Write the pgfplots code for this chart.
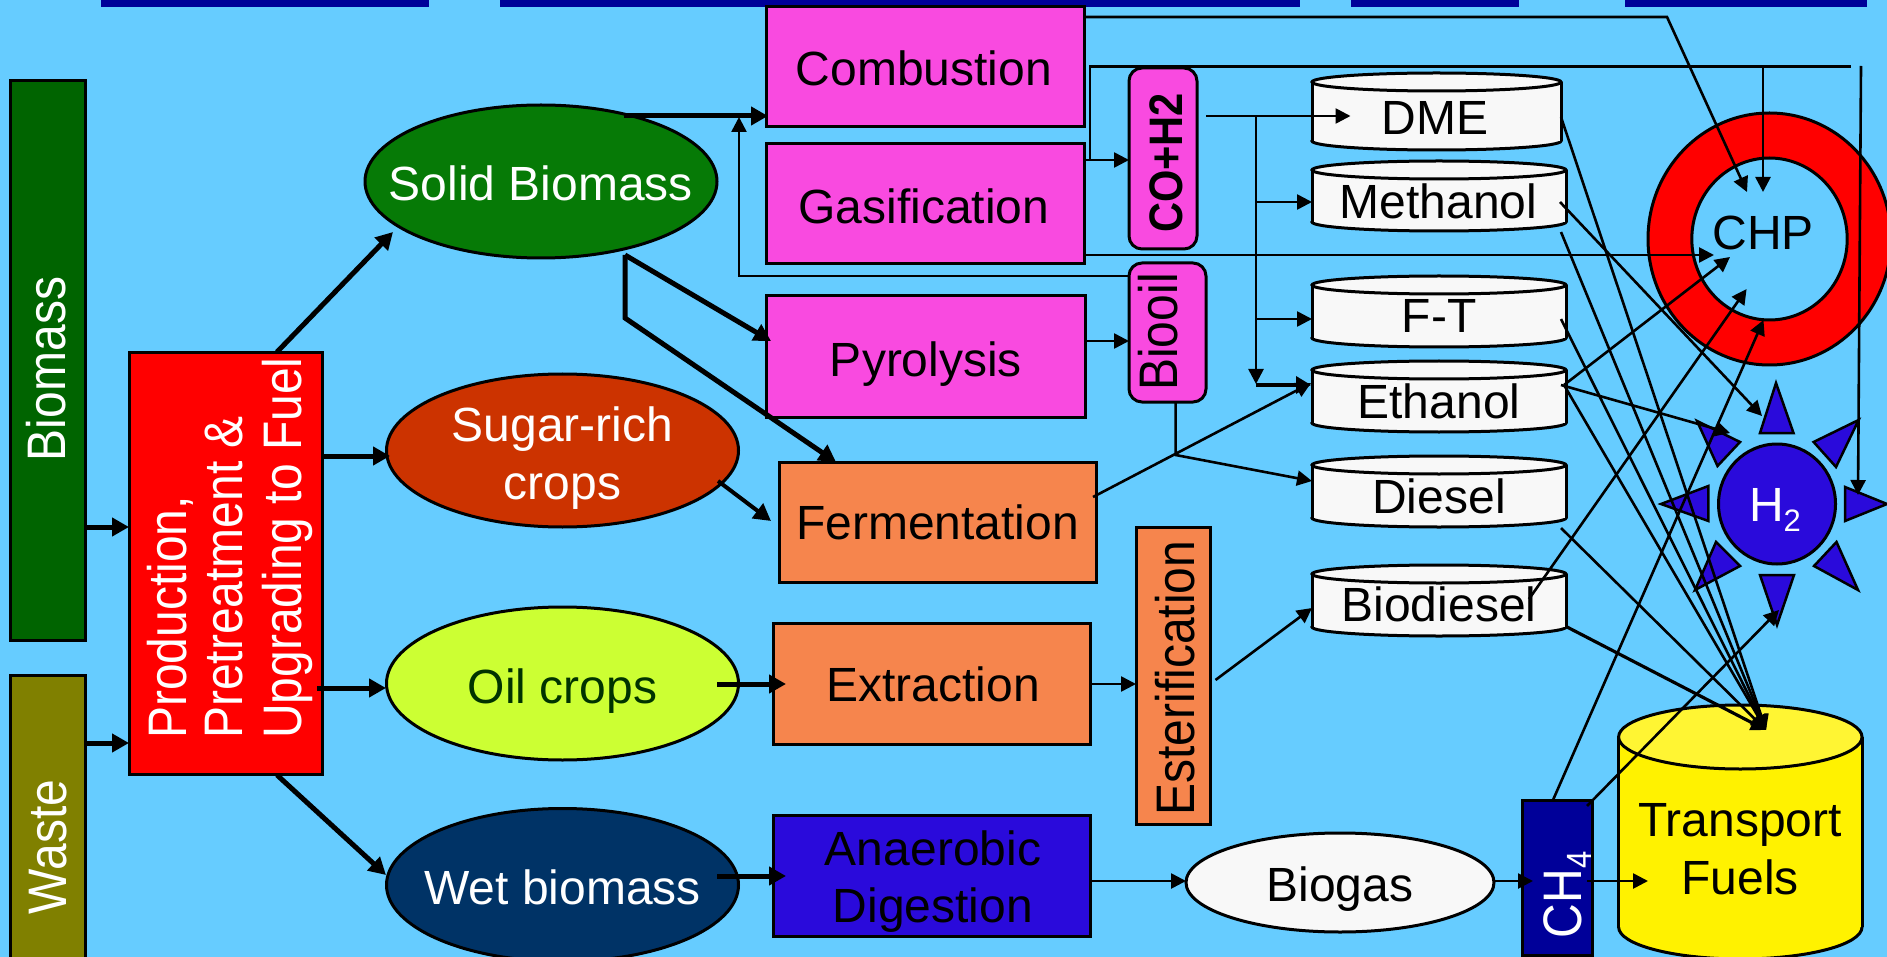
\documentclass[border=0pt]{standalone}
\usepackage{pgfplots}
\pgfplotsset{compat=1.18}
\usepackage{fontspec}
\setmainfont{Liberation Sans}
\usetikzlibrary{arrows.meta}
\definecolor{bg}{RGB}{102,204,255}
\definecolor{navy}{RGB}{0,0,153}
\definecolor{mag}{RGB}{249,74,224}
\definecolor{org}{RGB}{246,133,77}
\definecolor{blu}{RGB}{42,10,219}
\definecolor{wht}{RGB}{248,248,248}
\definecolor{dgreen}{RGB}{0,100,0}
\definecolor{sgreen}{RGB}{6,122,6}
\definecolor{olv}{RGB}{128,128,0}
\definecolor{sug}{RGB}{204,51,0}
\definecolor{lime}{RGB}{204,255,51}
\definecolor{wet}{RGB}{0,51,102}
\newcommand\fs{\fontsize{48}{54}\selectfont}
\newcommand\sfs{\fontsize{31}{34}\selectfont}
\tikzset{
 box/.style={draw=black,line width=3pt},
 txt/.style={anchor=base,inner sep=0pt,font=\fs,text=black,yshift=-1.5pt},
 rot/.style={rotate=90,anchor=base,inner sep=0pt,font=\fs,text=black},
 rotw/.style={rotate=90,anchor=base west,inner sep=0pt,font=\fs,text=white},
}
\pgfplotsset{
 thick arr/.style={black,line width=5pt,-{Triangle[length=17pt,width=18pt]}},
 mid arr/.style={black,line width=4pt,-{Triangle[length=17pt,width=18pt]}},
 thin arr/.style={black,line width=2.6pt,-{Triangle[length=15pt,width=15pt]}},
 ln/.style={black,line width=2.6pt},
 tri/.style={draw=black,line width=2.5pt,fill=blu},
}
\newcommand\stretched[1]{\scalebox{1}[1.13]{#1}}
\newcommand\cyl[7]{%
 \draw[line width=3pt,fill=#6] (#1,#4) ellipse [x radius=#2,y radius=#5];
 \fill[#6] (#1-#2,#3) rectangle (#1+#2,#4);
 \draw[line width=3pt] (#1-#2,#3) -- (#1-#2,#4);
 \draw[line width=3pt] (#1+#2,#3) -- (#1+#2,#4);
 \draw[line width=3pt,fill=#7] (#1,#3) ellipse [x radius=#2,y radius=#5];
}
\begin{document}
\begin{tikzpicture}[x=1pt,y=1pt]
\useasboundingbox (0,0) rectangle (1887,957);
\clip (0,0) rectangle (1887,957);
\fill[bg] (0,0) rectangle (1887,957);
\begin{axis}[at={(0,0)},anchor=south west,scale only axis,width=1887pt,height=957pt,
 xmin=0,xmax=1887,ymin=0,ymax=957,y dir=reverse,hide axis,clip=true]
% top bars
\fill[navy] (101,0) rectangle (429,7);
\fill[navy] (500,0) rectangle (1300,7);
\fill[navy] (1351,0) rectangle (1519,7);
\fill[navy] (1625,0) rectangle (1867,7);
% left boxes
\draw[box,fill=dgreen] (10,81) rectangle (85.5,640);
\draw[box,fill=olv] (10,675) rectangle (85.5,970);
\draw[box,fill=red] (129,353) rectangle (322,774);
% ellipses
\draw[line width=3pt,fill=sgreen] (541,181.5) ellipse [x radius=176,y radius=76.5];
\draw[line width=3pt,fill=sug] (562.5,450.5) ellipse [x radius=176,y radius=76.5];
\draw[line width=3pt,fill=lime] (562.5,683.5) ellipse [x radius=176,y radius=76.5];
\draw[line width=3pt,fill=wet] (562.5,885) ellipse [x radius=176,y radius=76.5];
% process boxes
\draw[box,fill=mag] (766,7) rectangle (1084,127);
\draw[box,fill=mag] (766,144) rectangle (1084,264);
\draw[box,fill=mag] (766,296) rectangle (1085,417);
\draw[box,fill=org] (779,462) rectangle (1096,582);
\draw[box,fill=org] (773,623) rectangle (1090,744);
\draw[box,fill=blu] (773,815) rectangle (1090,936);
\draw[box,fill=mag,rounded corners=13pt] (1129,68) rectangle (1197,249);
\draw[box,fill=mag,rounded corners=13pt] (1129,263) rectangle (1206,402);
\draw[box,fill=org] (1136,527) rectangle (1210,824);
% cylinders
\cyl{1436.5}{124.5}{82}{141}{9}{wht}{wht}
\cyl{1439}{127}{170}{222}{9}{wht}{wht}
\cyl{1439}{127}{285}{338}{9}{wht}{wht}
\cyl{1439}{127}{370}{423}{9}{wht}{wht}
\cyl{1439}{127}{465}{518}{9}{wht}{wht}
\cyl{1439}{127}{574}{627}{9}{wht}{wht}
% CHP ring
\draw[line width=3pt,fill=red] (1769.5,239) ellipse [x radius=121.5,y radius=126];
\draw[line width=3pt,fill=bg] (1769.5,239) ellipse [x radius=77.7,y radius=81];
% H2 star
\draw[line width=3pt,fill=blu] (1777,504) ellipse [x radius=58.5,y radius=60];
\addplot[tri] coordinates {(1776,383) (1760,433) (1793.5,433)} -- cycle;
\addplot[tri] coordinates {(1858.6,420) (1813.6,442) (1836,467)} -- cycle;
\addplot[tri] coordinates {(1697,421) (1740,442) (1717.5,466)} -- cycle;
\addplot[tri] coordinates {(1661,504) (1708.4,486) (1708.4,521)} -- cycle;
\addplot[tri] coordinates {(1887,504) (1845,487) (1845,521)} -- cycle;
\addplot[tri] coordinates {(1695,590) (1716,542) (1740,566)} -- cycle;
\addplot[tri] coordinates {(1858,590) (1836.5,542) (1814,566)} -- cycle;
\addplot[tri] coordinates {(1760,575) (1794,575) (1777,625)} -- cycle;
% Transport cylinder
\cyl{1740.3}{121.7}{737}{927}{32}{yellow}{yellow!80!white}
% CH4 and Biogas
\draw[box,fill=navy] (1522.7,800) rectangle (1592,955);
\draw[line width=3pt,fill=wht] (1340,882.5) ellipse [x radius=154,y radius=49.5];
% horizontal labels
\node[txt,text=white] at (541,199) {Solid Biomass};
\node[txt,text=white] at (562.5,440) {Sugar-rich};
\node[txt,text=white] at (562.5,498) {crops};
\node[txt,text=black!80!green] at (562.5,702) {Oil crops};
\node[txt,text=white] at (562.5,903) {Wet biomass};
\node[txt] at (924,84) {Combustion};
\node[txt] at (924,222) {Gasification};
\node[txt] at (926,375) {Pyrolysis};
\node[txt] at (937.5,538) {Fermentation};
\node[txt] at (933,700) {Extraction};
\node[txt] at (933,864) {Anaerobic};
\node[txt] at (933,921) {Digestion};
\node[txt] at (1340,900) {Biogas};
\node[txt] at (1435,133) {DME};
\node[txt] at (1438.5,217) {Methanol};
\node[txt] at (1439,331) {F-T};
\node[txt] at (1439,417) {Ethanol};
\node[txt] at (1439,512) {Diesel};
\node[txt] at (1439,620) {Biodiesel};
\node[txt] at (1763,248) {CHP};
\node[txt] at (1740,835) {Transport};
\node[txt] at (1740,893) {Fuels};
\node[txt,text=white] at (1775,520) {H\raisebox{-0.2em}{\sfs 2}};
% rotated labels
\node[rot,text=white] at (65,369) {\stretched{Biomass}};
\node[rot,text=white] at (66,847) {\stretched{Waste}};
\node[rotw] at (186,739) {\stretched{Production,}};
\node[rotw] at (242,739) {\stretched{Pretreatment \&}};
\node[rotw] at (301,739) {\stretched{Upgrading to Fuel}};
\node[rot,font=\fontsize{41.6}{48}\selectfont\bfseries] at (1182.5,163) {\stretched{CO+H2}};
\node[rot] at (1177.5,332) {\stretched{Biooil}};
\node[rot] at (1194,678) {\stretched{Esterification}};
\node[rot,text=white] at (1581,895) {\stretched{CH\raisebox{-0.2em}{\sfs 4}}};
% thick arrows
\addplot[thick arr] coordinates {(86,527) (129,527)};
\addplot[thick arr] coordinates {(86,743) (129,743)};
\addplot[thick arr] coordinates {(277,352) (393,232)};
\addplot[thick arr] coordinates {(322,456) (390,456)};
\addplot[thick arr] coordinates {(317,688) (386,688)};
\addplot[thick arr] coordinates {(277,775) (386,875)};
\addplot[thick arr] coordinates {(624,116) (768,116)};
\addplot[thick arr] coordinates {(625,255) (771,341)};
\addplot[thick arr] coordinates {(625,255) (625,318) (836,462)};
\addplot[mid arr] coordinates {(718,481) (771,521)};
\addplot[thick arr] coordinates {(717,684) (786,684)};
\addplot[thick arr] coordinates {(717,876) (786,876)};
% thin arrows
\addplot[thin arr] coordinates {(1129,276) (739,276) (739,117)};
\addplot[thin arr] coordinates {(1084,160) (1129,160)};
\addplot[ln] coordinates {(1090,160) (1090,66.7) (1851,66.7)};
\addplot[thin arr] coordinates {(1763,67) (1763,192)};
\addplot[thin arr] coordinates {(1861,66) (1858,495)};
\addplot[thin arr] coordinates {(1084,17) (1667,17) (1747,192)};
\addplot[thin arr] coordinates {(1084,255) (1714,255)};
\addplot[thin arr] coordinates {(1206,116) (1350.5,116)};
\addplot[thin arr] coordinates {(1256,116) (1256,384)};
\addplot[thin arr] coordinates {(1256,202) (1312,202)};
\addplot[thin arr] coordinates {(1256,319) (1312,319)};
\addplot[black,line width=3.5pt,-{Triangle[length=15pt,width=17pt]}] coordinates {(1256,385) (1311,385)};
\addplot[thin arr] coordinates {(1085,341) (1129,341)};
\addplot[thin arr] coordinates {(1175.6,402) (1175.6,455) (1312,481)};
\addplot[thin arr] coordinates {(1093,497) (1311,383)};
\addplot[thin arr] coordinates {(1090,684) (1136,684)};
\addplot[thin arr] coordinates {(1215.5,680) (1312,608)};
\addplot[thin arr] coordinates {(1090,881) (1186,881)};
\addplot[thin arr] coordinates {(1492.6,881) (1533,881)};
\addplot[thin arr] coordinates {(1587,881) (1648,881)};
\addplot[thin arr] coordinates {(1587,806) (1779,610)};
\addplot[thin arr] coordinates {(1553,800) (1763.5,320)};
\addplot[thin arr] coordinates {(1529,599) (1746.6,289)};
\addplot[thin arr] coordinates {(1564,385) (1730,257)};
\addplot[thin arr] coordinates {(1561,385) (1730,433)};
\addplot[thin arr] coordinates {(1560,202) (1762,416)};
\addplot[thin arr] coordinates {(1561,117) (1766,730)};
\addplot[thin arr] coordinates {(1561,232) (1766,730)};
\addplot[thin arr] coordinates {(1561,319) (1766,730)};
\addplot[thin arr] coordinates {(1564,385) (1766,730)};
\addplot[thin arr] coordinates {(1561,528) (1766,730)};
\addplot[black,line width=3.2pt,-{Triangle[length=15pt,width=15pt]}] coordinates {(1567,627) (1766,730)};
\end{axis}
\end{tikzpicture}
\end{document}
